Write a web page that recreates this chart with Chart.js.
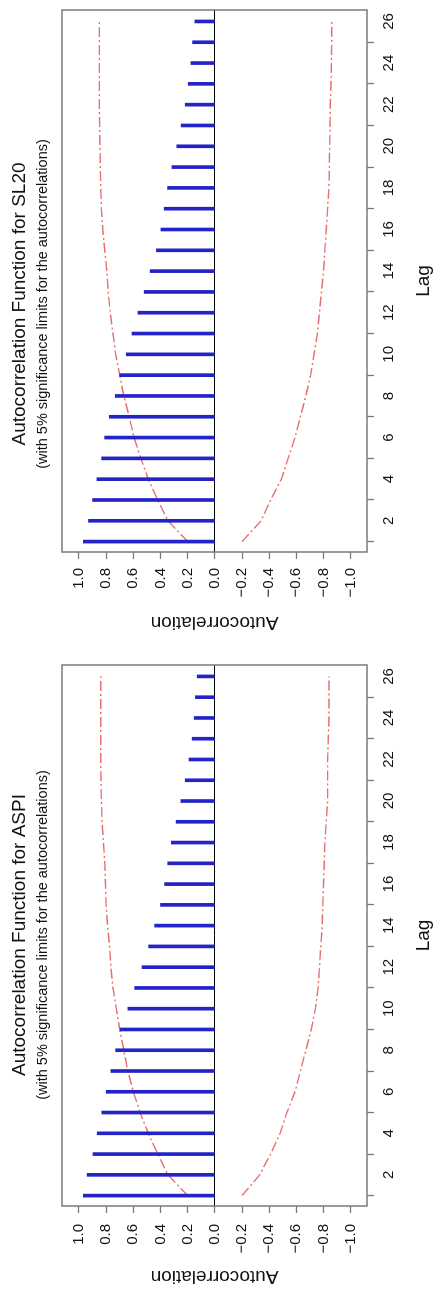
<!DOCTYPE html>
<html>
<head>
<meta charset="utf-8">
<script src="https://cdn.jsdelivr.net/npm/chart.js@4.4.1/dist/chart.umd.min.js"></script>
<style>
  body { margin: 0; background: #fff; overflow: hidden; }
  #sheet {
    position: absolute; left: 0; top: 0;
    width: 1289px; height: 435px;
    transform-origin: 0 0;
    transform: translateY(1289px) rotate(-90deg);
    overflow: hidden;
    background: #fff;
  }
  canvas { position: absolute; top: 0; }
</style>
</head>
<body>
<div id="sheet">
  <canvas id="aspiChart" width="644" height="435" style="left:0px"></canvas>
  <canvas id="sl20Chart" width="644" height="435" style="left:645px"></canvas>
</div>
<script>
const lags = [1, 2, 3, 4, 5, 6, 7, 8, 9, 10, 11, 12, 13, 14, 15, 16, 17, 18, 19, 20, 21, 22, 23, 24, 25, 26]
const lagTicks = [2, 4, 6, 8, 10, 12, 14, 16, 18, 20, 22, 24, 26]
const acfTicks = [-1.0, -0.8, -0.6, -0.4, -0.2, 0, 0.2, 0.4, 0.6, 0.8, 1.0]

const acfASPI = [0.968, 0.94, 0.897, 0.866, 0.832, 0.80, 0.765, 0.73, 0.697, 0.64, 0.59, 0.536, 0.487, 0.443, 0.40, 0.37, 0.347, 0.32, 0.285, 0.25, 0.218, 0.19, 0.167, 0.152, 0.143, 0.13]
const upperASPI = [0.2, 0.345, 0.42, 0.49, 0.55, 0.60, 0.64, 0.67, 0.70, 0.725, 0.75, 0.765, 0.775, 0.79, 0.80, 0.805, 0.81, 0.82, 0.83, 0.835, 0.838, 0.84, 0.84, 0.84, 0.84, 0.84]
const lowerASPI = [-0.2, -0.33, -0.41, -0.48, -0.53, -0.59, -0.63, -0.67, -0.71, -0.74, -0.76, -0.77, -0.78, -0.79, -0.795, -0.80, -0.805, -0.81, -0.82, -0.83, -0.83, -0.83, -0.835, -0.84, -0.84, -0.84]

const acfSL20 = [0.968, 0.93, 0.90, 0.868, 0.833, 0.811, 0.777, 0.733, 0.70, 0.652, 0.61, 0.566, 0.52, 0.476, 0.43, 0.397, 0.373, 0.348, 0.316, 0.28, 0.248, 0.218, 0.196, 0.176, 0.164, 0.147]
const upperSL20 = [0.2, 0.345, 0.42, 0.49, 0.545, 0.595, 0.63, 0.67, 0.70, 0.73, 0.75, 0.77, 0.785, 0.795, 0.81, 0.825, 0.835, 0.84, 0.843, 0.845, 0.848, 0.85, 0.85, 0.85, 0.85, 0.85]
const lowerSL20 = [-0.2, -0.34, -0.41, -0.49, -0.54, -0.59, -0.63, -0.67, -0.705, -0.73, -0.755, -0.77, -0.785, -0.80, -0.81, -0.82, -0.83, -0.84, -0.843, -0.845, -0.848, -0.85, -0.855, -0.858, -0.86, -0.86]

const FONT = "'Liberation Sans', Arial, Helvetica, sans-serif"

function pts(values) {
    return lags.map((lag, i) => ({ x: lag, y: values[i] }))
}

// frame around the plot region plus the two title lines
const panelDecor = {
    id: 'panelDecor',
    afterDraw(chart, args, opts) {
        const ctx = chart.ctx
        const a = chart.chartArea
        ctx.save()
        ctx.strokeStyle = '#7a7a7a'
        ctx.lineWidth = 1.5
        ctx.strokeRect(a.left, a.top, a.right - a.left, a.bottom - a.top)
        ctx.fillStyle = '#111'
        ctx.textAlign = 'center'
        ctx.textBaseline = 'middle'
        ctx.font = '19px ' + FONT
        ctx.fillText(opts.title, opts.cx, 20)
        ctx.font = '14.5px ' + FONT
        ctx.fillText(opts.sub, opts.cx, 42.5)
        ctx.restore()
    }
}

function makeAcf(id, name, acf, upper, lower, pad, titleX, labelGap) {
    new Chart(id, {
        type: 'bar',
        data: {
            datasets: [
                {
                    data: pts(acf),
                    backgroundColor: '#2323c8',
                    borderWidth: 0,
                    barThickness: 3
                },
                {
                    type: 'line',
                    data: pts(upper),
                    borderColor: 'rgba(228,95,95,0.9)',
                    borderWidth: 1.4,
                    borderDash: [10, 3, 2, 3],
                    pointRadius: 0,
                    tension: 0,
                    fill: false
                },
                {
                    type: 'line',
                    data: pts(lower),
                    borderColor: 'rgba(228,95,95,0.9)',
                    borderWidth: 1.4,
                    borderDash: [10, 3, 2, 3],
                    pointRadius: 0,
                    tension: 0,
                    fill: false
                }
            ]
        },
        options: {
            responsive: false,
            animation: false,
            devicePixelRatio: 1,
            layout: { padding: pad },
            plugins: {
                legend: { display: false },
                tooltip: { enabled: false },
                panelDecor: {
                    title: 'Autocorrelation Function for ' + name,
                    sub: '(with 5% significance limits for the autocorrelations)',
                    cx: titleX
                }
            },
            scales: {
                x: {
                    type: 'linear',
                    min: 0.5,
                    max: 26.55,
                    offset: false,
                    afterBuildTicks: s => { s.ticks = lagTicks.map(v => ({ value: v })) },
                    afterFit: s => { s.height = 68 },
                    border: { display: false },
                    grid: { drawOnChartArea: false, tickLength: 7, tickColor: '#7a7a7a', tickWidth: 1.3 },
                    ticks: { color: '#111', padding: 6, maxRotation: 0, font: { family: FONT, size: 15 } },
                    title: { display: true, text: 'Lag', color: '#111', padding: 0, font: { family: FONT, size: 19 } }
                },
                y: {
                    min: -1.12,
                    max: 1.125,
                    afterBuildTicks: s => { s.ticks = acfTicks.map(v => ({ value: v })) },
                    afterFit: s => { s.width = 82 },
                    border: { display: false },
                    grid: {
                        color: c => (c.tick && c.tick.value === 0) ? '#000' : 'rgba(0,0,0,0)',
                        lineWidth: 1,
                        tickLength: 7,
                        tickColor: '#7a7a7a',
                        tickWidth: 1.3
                    },
                    ticks: {
                        color: '#111',
                        padding: labelGap,
                        font: { family: FONT, size: 15 },
                        callback: v => (v < 0 ? '\u2212' : '') + Math.abs(v).toFixed(1)
                    },
                    title: { display: true, text: 'Autocorrelation', color: '#111', padding: { top: 0.5, bottom: 0 }, font: { family: FONT, size: 19 } }
                }
            }
        },
        plugins: [panelDecor]
    })
}

makeAcf('aspiChart', 'ASPI', acfASPI, upperASPI, lowerASPI, { left: 1, right: 20, top: 62, bottom: 0 }, 354, 11)
makeAcf('sl20Chart', 'SL20', acfSL20, upperSL20, lowerSL20, { left: 10, right: 10, top: 62, bottom: 0 }, 340, 9)
</script>
</body>
</html>
